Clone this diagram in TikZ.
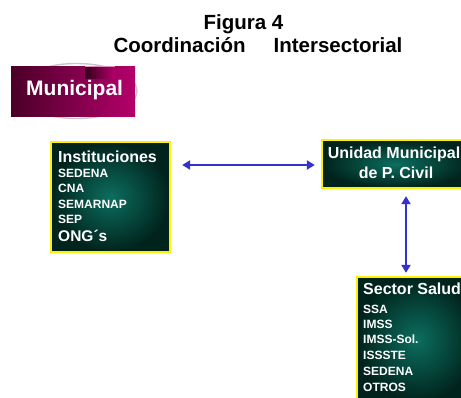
\documentclass[tikz,border=0pt]{standalone}
\usepackage{fontspec}
\setmainfont{Liberation Sans}
\usetikzlibrary{arrows.meta,calc,shapes.geometric}
\definecolor{tealin}{HTML}{0C6E5F}
\definecolor{tealout}{HTML}{00231C}
\definecolor{magl}{HTML}{4A0027}
\definecolor{magr}{HTML}{B5006B}
\definecolor{arrowblue}{HTML}{3333CC}
\tikzset{
  greenbox/.style={draw=yellow, line width=1.3pt, inner color=tealin, outer color=tealout, inner sep=0pt},
  txt/.style={text=white, font=\bfseries, inner sep=0pt, anchor=base west},
  title/.style={text=black, font=\bfseries\fontsize{20.5}{24}\selectfont, inner sep=0pt, anchor=base},
  link/.style={draw=arrowblue, line width=2pt, {Triangle[width=9pt,length=8pt]}-{Triangle[width=9pt,length=8pt]}},
  big/.style={font=\bfseries\fontsize{16}{19}\selectfont},
  small/.style={font=\bfseries\fontsize{12}{14}\selectfont}
}
\begin{document}
\begin{tikzpicture}[x=1pt,y=-1pt]
\useasboundingbox (0,0) rectangle (461,397);
\clip (0,0) rectangle (461,397);
% title
\node[title] (fig) at (243.5,29) {Figura 4};
\node[title] (coord) at (258,52) {Coordinación\hspace{28pt}Intersectorial};
% Municipal
\node[draw=gray!45, line width=1.4pt, ellipse, minimum width=121pt, minimum height=55pt, inner sep=0pt] (muniell) at (76.5,91) {};
\node[left color=magl, right color=magr, minimum width=124pt, minimum height=50pt, inner sep=0pt] (muni) at (73,91) {};
\node[left color=magl!70!black, right color=magr, minimum width=30pt, minimum height=11pt, inner sep=0pt] (munitab) at (100,72.5) {};
\draw[white!55!magr, line width=0.8pt] (munitab.north west) -- (munitab.north east);
\node[txt, font=\bfseries\fontsize{21}{24}\selectfont] (munitxt) at (26,95) {Municipal};
% boxes
\node[greenbox, minimum width=119pt, minimum height=110pt] (inst) at (110.5,197) {};
\node[greenbox, minimum width=148pt, minimum height=48pt] (unidad) at (396,164) {};
\node[greenbox, minimum width=120pt, minimum height=125pt] (sector) at (417,339.5) {};
% Instituciones text
\node[txt, big] (i0) at (58,162) {Instituciones};
\node[txt, small] (i1) at (58,177) {SEDENA};
\node[txt, small] (i2) at (58,192.5) {CNA};
\node[txt, small] (i3) at (58,208) {SEMARNAP};
\node[txt, small] (i4) at (58,223.5) {SEP};
\node[txt, font=\bfseries\fontsize{15.5}{18}\selectfont] (i5) at (58,241) {ONG´s};
% Unidad text
\node[txt, big, anchor=base] (u1) at (394,158) {Unidad Municipal};
\node[txt, big, anchor=base] (u2) at (396,178) {de P. Civil};
% Sector text
\node[txt, big] (s0) at (363,294) {Sector Salud};
\node[txt, small] (s1) at (363,313) {SSA};
\node[txt, small] (s2) at (363,328.5) {IMSS};
\node[txt, small] (s3) at (363,343.5) {IMSS-Sol.};
\node[txt, small] (s4) at (363,359) {ISSSTE};
\node[txt, small] (s5) at (363,375) {SEDENA};
\node[txt, small] (s6) at (363,391) {OTROS};
% arrows
\draw[link] ($(inst.east|-unidad.west)+(11.5,1)$) -- ($(unidad.west)+(-6.5,1)$);
\draw[link] ($(unidad.south)+(10,7.5)$) -- ($(sector.north -| unidad.south)+(10,-3.5)$);
\end{tikzpicture}
\end{document}
